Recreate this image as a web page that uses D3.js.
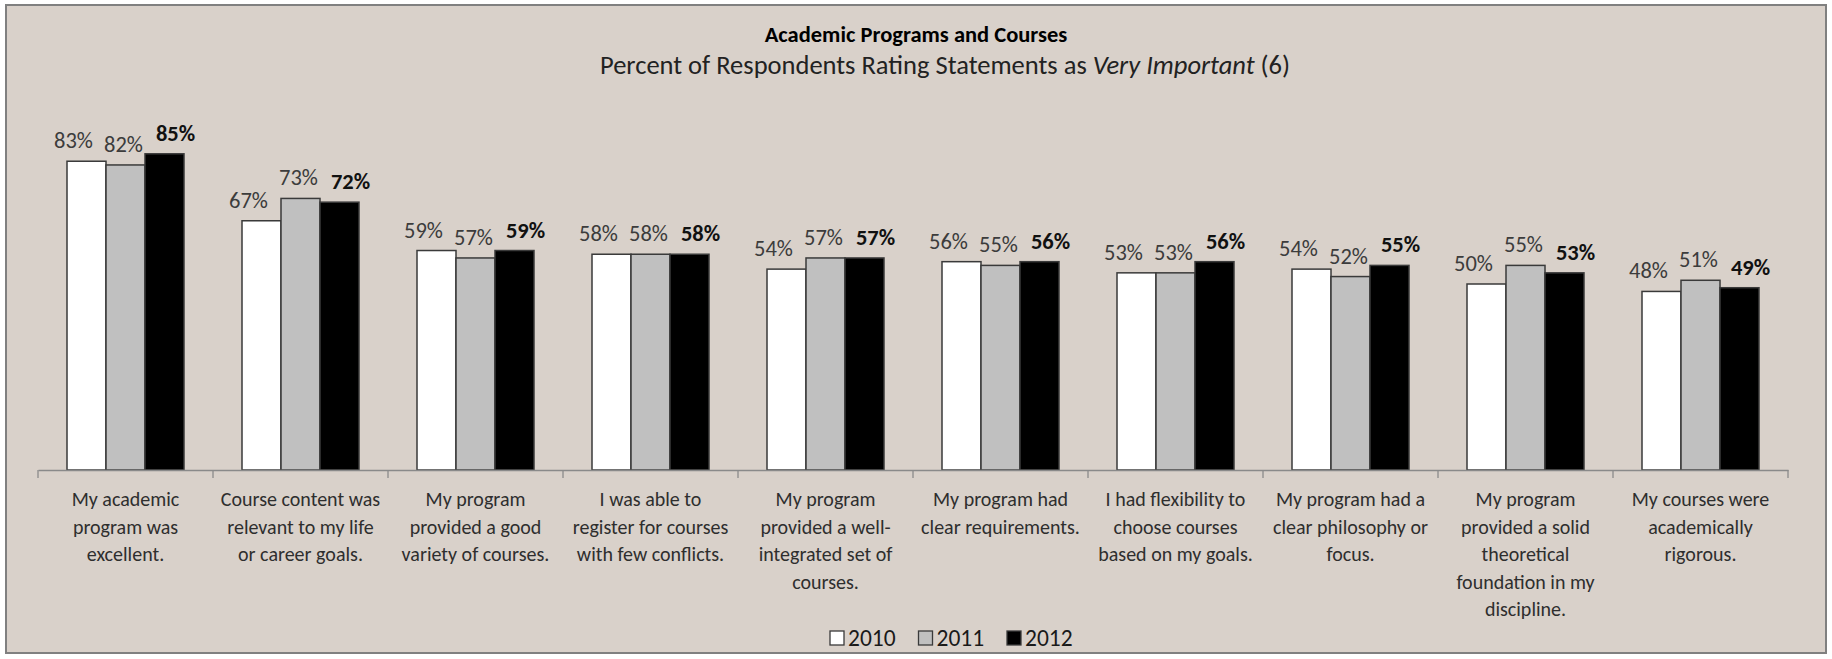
<!DOCTYPE html>
<html>
<head>
<meta charset="utf-8">
<script src="https://cdn.jsdelivr.net/npm/d3@7/dist/d3.min.js"></script>
<style>
  html, body { margin: 0; padding: 0; background: #ffffff; }
  svg { display: block; }
  text { font-family: Carlito, Calibri, Lato, sans-serif; }
</style>
</head>
<body>
<svg id="chart" width="1832" height="659"></svg>
<script>
// ---- data ----
const categories = [
  "My academic\nprogram was\nexcellent.",
  "Course content was\nrelevant to my life\nor career goals.",
  "My program\nprovided a good\nvariety of courses.",
  "I was able to\nregister for courses\nwith few conflicts.",
  "My program\nprovided a well-\nintegrated set of\ncourses.",
  "My program had\nclear requirements.",
  "I had flexibility to\nchoose courses\nbased on my goals.",
  "My program had a\nclear philosophy or\nfocus.",
  "My program\nprovided a solid\ntheoretical\nfoundation in my\ndiscipline.",
  "My courses were\nacademically\nrigorous."
];
const seriesNames = ["2010", "2011", "2012"];
const values2010 = [83, 67, 59, 58, 54, 56, 53, 54, 50, 48];
const values2011 = [82, 73, 57, 58, 57, 55, 53, 52, 55, 51];
const values2012 = [85, 72, 59, 58, 57, 56, 56, 55, 53, 49];
const titleText = "Academic Programs and Courses";
const subtitleParts = ["Percent of Respondents Rating Statements as ", "Very Important", " (6)"];

// ---- styling ----
const series = [
  { name: seriesNames[0], values: values2010, fill: "#ffffff", labelColor: "#3c3c3c", bold: false, dx: -13 },
  { name: seriesNames[1], values: values2011, fill: "#c0c0c0", labelColor: "#3c3c3c", bold: false, dx: -2 },
  { name: seriesNames[2], values: values2012, fill: "#000000", labelColor: "#111111", bold: true, dx: 11 }
];

const svg = d3.select("#chart");

// chart area background + border
svg.append("rect").attr("x", 6).attr("y", 5).attr("width", 1820).attr("height", 648)
  .attr("fill", "#d9d1ca").attr("stroke", "#808080").attr("stroke-width", 2);

// title
svg.append("text").attr("x", 916).attr("y", 42).attr("text-anchor", "middle")
  .attr("font-size", 22.5).attr("font-weight", "bold").attr("fill", "#000")
  .text(titleText);
const sub = svg.append("text").attr("x", 945).attr("y", 74).attr("text-anchor", "middle")
  .attr("font-size", 26.5).attr("fill", "#222");
sub.append("tspan").text(subtitleParts[0]);
sub.append("tspan").attr("font-style", "italic").text(subtitleParts[1]);
sub.append("tspan").text(subtitleParts[2]);

// scales
const x0 = d3.scaleBand().domain(d3.range(categories.length)).range([38, 1788]).paddingInner(0).paddingOuter(0);
const groupW = 117;
const x1 = d3.scaleBand().domain(d3.range(series.length)).range([(x0.bandwidth() - groupW) / 2, (x0.bandwidth() + groupW) / 2]).padding(0);
const y = d3.scaleLinear().domain([0, 100]).range([470, 98]);

// bars
series.forEach((s, si) => {
  const g = svg.append("g");
  g.selectAll("rect").data(s.values).join("rect")
    .attr("x", (d, i) => x0(i) + x1(si))
    .attr("y", d => y(d))
    .attr("width", x1.bandwidth())
    .attr("height", d => y(0) - y(d))
    .attr("fill", s.fill)
    .attr("stroke", "#3a3a3a")
    .attr("stroke-width", 1.5);
  g.selectAll("text").data(s.values).join("text")
    .attr("x", (d, i) => x0(i) + x1(si) + x1.bandwidth() / 2 + s.dx)
    .attr("y", d => y(d) - 13)
    .attr("text-anchor", "middle")
    .attr("font-size", 22.5)
    .attr("font-weight", s.bold ? "bold" : "normal")
    .attr("fill", s.labelColor)
    .text(d => d + "%");
});

// x axis
const axis = d3.axisBottom(x0).tickSize(0).tickFormat("");
const ax = svg.append("g").attr("transform", `translate(0,${y(0)})`).call(axis);
ax.select(".domain").attr("stroke", "#8a8a8a").attr("stroke-width", 1.3);
const bounds = d3.range(categories.length + 1).map(i => i < categories.length ? x0(i) : x0(categories.length - 1) + x0.bandwidth());
ax.selectAll("line.bt").data(bounds).join("line").attr("class", "bt")
  .attr("x1", d => d).attr("x2", d => d).attr("y1", 0).attr("y2", 8)
  .attr("stroke", "#8a8a8a").attr("stroke-width", 1.3);

// category labels
const catG = svg.append("g");
categories.forEach((c, i) => {
  const t = catG.append("text").attr("text-anchor", "middle").attr("font-size", 20).attr("fill", "#2e2e2e");
  c.split("\n").forEach((line, li) => {
    t.append("tspan").attr("x", x0(i) + x0.bandwidth() / 2).attr("y", 506 + li * 27.5).text(line);
  });
});

// legend
const legend = svg.append("g");
series.forEach((s, si) => {
  const lx = 830 + si * 88.5;
  legend.append("rect").attr("x", lx).attr("y", 631).attr("width", 14).attr("height", 14)
    .attr("fill", s.fill).attr("stroke", "#3a3a3a").attr("stroke-width", 1.3);
  legend.append("text").attr("x", lx + 18).attr("y", 646).attr("font-size", 23.5).attr("fill", "#1a1a1a").text(s.name);
});
</script>
</body>
</html>
